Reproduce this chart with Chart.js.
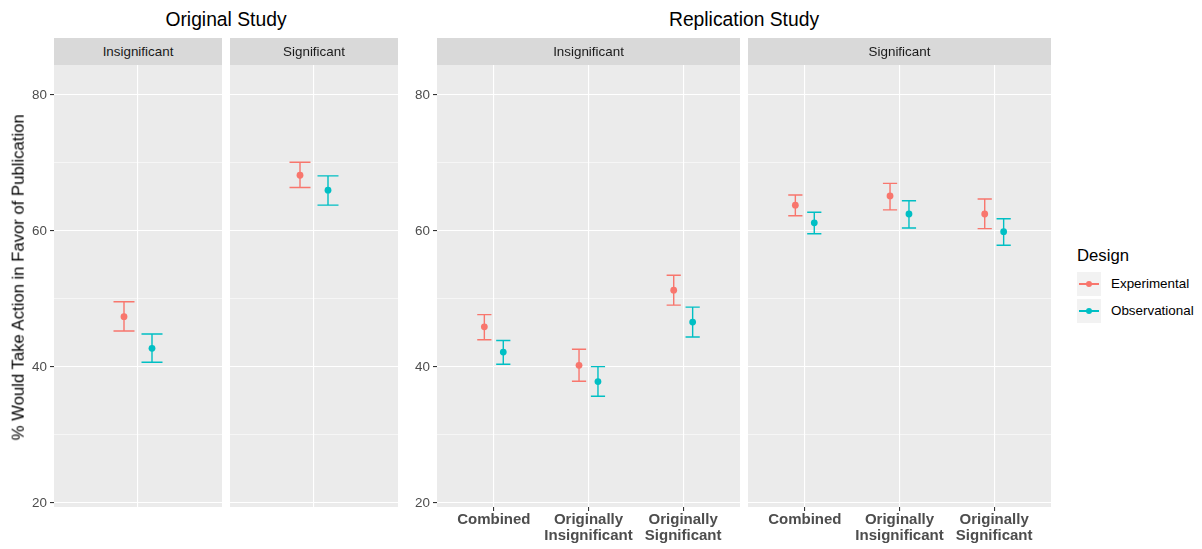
<!DOCTYPE html>
<html>
<head>
<meta charset="utf-8">
<script src="https://cdn.jsdelivr.net/npm/chart.js@4.4.0/dist/chart.umd.min.js"></script>
<style>
  body { margin: 0; background: #fff; font-family: "Liberation Sans", Arial, sans-serif; }
  #figura { position: relative; width: 1202px; height: 549px; overflow: hidden; }
  #figura canvas { position: absolute; }
  .titulo { position: absolute; top: 10px; font-size: 19.3px; line-height: 19.3px; color: #000; text-align: center; white-space: nowrap; }
  .faixa { position: absolute; top: 38px; height: 27px; padding-top: 1px; box-sizing: border-box; background: #D9D9D9; color: #1A1A1A; font-size: 13.4px; line-height: 26px; text-align: center; white-space: nowrap; }
  #titulo-y { position: absolute; left: 19px; top: 277px; width: 400px; margin-left: -200px; font-size: 16.7px; line-height: 16.7px; margin-top: -8.35px; text-align: center; color: #000; transform: rotate(-90deg); white-space: nowrap; }
  #legenda-titulo { position: absolute; left: 1077px; top: 247.6px; font-size: 16.7px; line-height: 16.7px; color: #000; }
  .chave { position: absolute; left: 1077px; width: 24px; height: 24px; background: #F2F2F2; }
  .chave .linha { position: absolute; left: 2px; width: 20px; top: 11.3px; height: 1.4px; }
  .chave .ponto { position: absolute; left: 8.6px; top: 8.6px; width: 6.8px; height: 6.8px; border-radius: 50%; }
  .chave-texto { position: absolute; left: 1111px; font-size: 13.4px; line-height: 14px; color: #000; white-space: nowrap; }
</style>
</head>
<body>
<div id="figura">
  <canvas id="grafico-orig-ins" width="222" height="487" style="left:0px;top:38px"></canvas>
  <canvas id="grafico-orig-sig" width="168" height="487" style="left:230px;top:38px"></canvas>
  <canvas id="grafico-rep-ins" width="340" height="511" style="left:400px;top:38px"></canvas>
  <canvas id="grafico-rep-sig" width="303" height="511" style="left:748px;top:38px"></canvas>

  <div class="titulo" style="left:54px;width:344px">Original Study</div>
  <div class="titulo" style="left:437px;width:614px">Replication Study</div>

  <div class="faixa" style="left:54px;width:168px">Insignificant</div>
  <div class="faixa" style="left:230px;width:168px">Significant</div>
  <div class="faixa" style="left:437px;width:303px">Insignificant</div>
  <div class="faixa" style="left:748px;width:303px">Significant</div>

  <div id="titulo-y">% Would Take Action in Favor of Publication</div>
  <div id="legenda-titulo">Design</div>
  <div id="legenda"></div>
</div>

<script>
// categorias e séries
const designs = ['Experimental', 'Observational'];
const coresDesign = ['#F8766D', '#00BFC4'];
const categoriasReplicacao = ['Combined', ['Originally', 'Insignificant'], ['Originally', 'Significant']];
const yMarcasPrincipais = [20, 40, 60, 80];
const yMarcasSecundarias = [30, 50, 70];

// Original Study: [Insignificant, Significant]
const origExpMedia = [47.4, 68.2];
const origExpInf   = [45.3, 66.4];
const origExpSup   = [49.6, 70.1];
const origObsMedia = [42.75, 66.0];
const origObsInf   = [40.7, 63.8];
const origObsSup   = [44.85, 68.1];

// Replication Study, painel Insignificant: Combined, Orig. Insig., Orig. Sig.
const repInsExpMedia = [45.9, 40.25, 51.3];
const repInsExpInf   = [44.0, 37.9, 49.1];
const repInsExpSup   = [47.7, 42.6, 53.5];
const repInsObsMedia = [42.2, 37.85, 46.6];
const repInsObsInf   = [40.4, 35.7, 44.4];
const repInsObsSup   = [43.9, 40.05, 48.8];

// Replication Study, painel Significant
const repSigExpMedia = [63.8, 65.15, 62.5];
const repSigExpInf   = [62.25, 63.1, 60.35];
const repSigExpSup   = [65.3, 67.0, 64.7];
const repSigObsMedia = [61.2, 62.5, 59.9];
const repSigObsInf   = [59.6, 60.45, 57.9];
const repSigObsSup   = [62.75, 64.45, 61.8];

const Y_MIN = 19.41, Y_MAX = 84.41;
const DESLOCAMENTO = 0.1;      // dodge
const LARGURA_BARRA = 0.15;    // largura do "chapéu" da barra de erro

Chart.defaults.font.family = '"Liberation Sans", Arial, sans-serif';

const fundoPainel = {
    id: 'fundoPainel',
    beforeDraw(chart) {
        const { ctx, chartArea: a } = chart;
        ctx.save();
        ctx.fillStyle = '#EBEBEB';
        ctx.fillRect(a.left, a.top, a.right - a.left, a.bottom - a.top);
        ctx.restore();
    }
};

const barrasErro = {
    id: 'barrasErro',
    beforeDatasetsDraw(chart) {
        const { ctx, scales: { x, y } } = chart;
        chart.data.datasets.forEach(ds => {
            ctx.save();
            ctx.strokeStyle = ds.borderColor;
            ctx.lineWidth = 1.4;
            ds.data.forEach((p, i) => {
                const px = x.getPixelForValue(p.x);
                const esq = x.getPixelForValue(p.x - LARGURA_BARRA / 2);
                const dir = x.getPixelForValue(p.x + LARGURA_BARRA / 2);
                const topo = y.getPixelForValue(ds.sup[i]);
                const base = y.getPixelForValue(ds.inf[i]);
                ctx.beginPath();
                ctx.moveTo(px, topo); ctx.lineTo(px, base);
                ctx.moveTo(esq, topo); ctx.lineTo(dir, topo);
                ctx.moveTo(esq, base); ctx.lineTo(dir, base);
                ctx.stroke();
            });
            ctx.restore();
        });
    }
};

const ehPrincipal = c => c.tick && yMarcasPrincipais.includes(c.tick.value);

function renderizarPainel(canvasId, categorias, series, cfg) {
    const n = categorias.length;
    const datasets = series.map((s, k) => ({
        label: designs[k],
        data: s.media.map((v, i) => ({ x: i + 1 + (k === 0 ? -DESLOCAMENTO : DESLOCAMENTO), y: v })),
        inf: s.inf, sup: s.sup,
        backgroundColor: coresDesign[k], borderColor: coresDesign[k],
        pointRadius: 3.4, pointBorderWidth: 0, showLine: false
    }));

    return new Chart(document.getElementById(canvasId), {
        type: 'scatter',
        data: { datasets },
        options: {
            responsive: false, animation: false, events: [],
            layout: { autoPadding: false, padding: { top: 27, left: 0, right: 0, bottom: 0 } },
            plugins: { legend: { display: false }, tooltip: { enabled: false } },
            scales: {
                x: {
                    type: 'linear', min: 0.4, max: n + 0.6,
                    afterBuildTicks: s => { s.ticks = categorias.map((_, i) => ({ value: i + 1 })); },
                    afterFit: s => { s.height = cfg.alturaX; },
                    border: { display: false },
                    grid: { color: '#FFFFFF', lineWidth: 1.1, drawTicks: cfg.mostrarX, tickLength: 4, tickColor: '#333333', tickWidth: 1.1 },
                    ticks: {
                        display: cfg.mostrarX, autoSkip: false, maxRotation: 0, minRotation: 0, padding: 1,
                        color: '#4D4D4D', font: { size: 15, weight: 'bold', lineHeight: 1.07 },
                        callback: v => categorias[Math.round(v) - 1]
                    }
                },
                y: {
                    type: 'linear', min: Y_MIN, max: Y_MAX,
                    afterBuildTicks: s => { s.ticks = [...yMarcasPrincipais, ...yMarcasSecundarias].sort((a, b) => a - b).map(v => ({ value: v })); },
                    afterFit: s => { s.width = cfg.larguraY; },
                    border: { display: false },
                    grid: {
                        color: '#FFFFFF',
                        lineWidth: c => ehPrincipal(c) ? 1.1 : 0.55,
                        drawTicks: cfg.mostrarY, tickLength: 4, tickWidth: 1.1,
                        tickColor: c => ehPrincipal(c) ? '#333333' : 'rgba(0,0,0,0)'
                    },
                    ticks: {
                        display: cfg.mostrarY, padding: 3, color: '#4D4D4D', font: { size: 13.4 },
                        callback: v => yMarcasPrincipais.includes(v) ? v : ''
                    }
                }
            }
        },
        plugins: [fundoPainel, barrasErro]
    });
}

const serie = (media, inf, sup) => ({ media, inf, sup });

renderizarPainel('grafico-orig-ins', [''],
    [serie([origExpMedia[0]], [origExpInf[0]], [origExpSup[0]]), serie([origObsMedia[0]], [origObsInf[0]], [origObsSup[0]])],
    { larguraY: 54, alturaX: 18, mostrarY: true, mostrarX: false });
renderizarPainel('grafico-orig-sig', [''],
    [serie([origExpMedia[1]], [origExpInf[1]], [origExpSup[1]]), serie([origObsMedia[1]], [origObsInf[1]], [origObsSup[1]])],
    { larguraY: 0, alturaX: 18, mostrarY: false, mostrarX: false });
renderizarPainel('grafico-rep-ins', categoriasReplicacao,
    [serie(repInsExpMedia, repInsExpInf, repInsExpSup), serie(repInsObsMedia, repInsObsInf, repInsObsSup)],
    { larguraY: 37, alturaX: 42, mostrarY: true, mostrarX: true });
renderizarPainel('grafico-rep-sig', categoriasReplicacao,
    [serie(repSigExpMedia, repSigExpInf, repSigExpSup), serie(repSigObsMedia, repSigObsInf, repSigObsSup)],
    { larguraY: 0, alturaX: 42, mostrarY: false, mostrarX: true });

// legenda
const legenda = document.getElementById('legenda');
designs.forEach((d, k) => {
    const topo = 272 + k * 27;
    legenda.insertAdjacentHTML('beforeend',
        `<div class="chave" style="top:${topo}px"><div class="linha" style="background:${coresDesign[k]}"></div><div class="ponto" style="background:${coresDesign[k]}"></div></div>` +
        `<div class="chave-texto" style="top:${topo + 5}px">${d}</div>`);
});
</script>
</body>
</html>
